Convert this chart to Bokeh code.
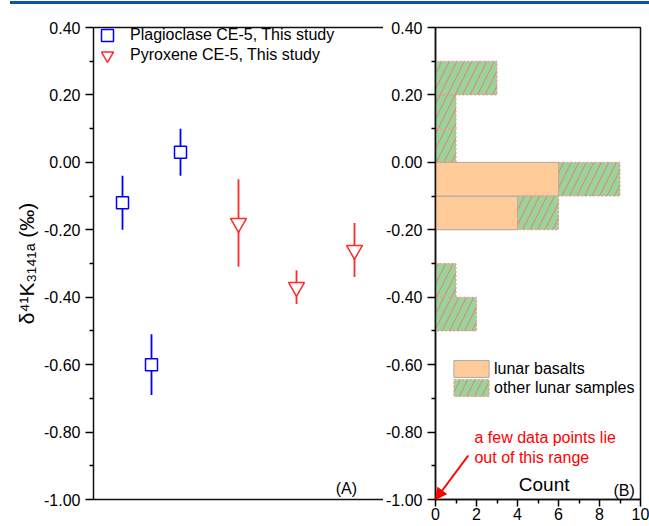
from bokeh.plotting import figure
from bokeh.layouts import row, column
from bokeh.models import (FixedTicker, PrintfTickFormatter, LinearAxis, Legend,
                          LegendItem, Label, Arrow, NormalHead, ColumnDataSource, Div)
from bokeh.embed import file_html
from bokeh.resources import INLINE

# ---------------- data ----------------
# Panel A: K isotope data of CE-5 minerals
plag_x = [1, 2, 3]
plag_y = [-0.12, -0.60, 0.03]
plag_err = [0.08, 0.09, 0.07]

pyx_x = [5, 7, 9]
pyx_y = [-0.18, -0.37, -0.26]
pyx_err = [0.13, 0.05, 0.08]

# Panel B: histogram of lunar samples (bins of 0.1)
bin_lower = [-0.5, -0.4, -0.3, -0.2, -0.1, 0.0, 0.1, 0.2]
bin_width = 0.1
basalt_counts = [0, 0, 0, 4, 6, 0, 0, 0]
other_counts = [2, 1, 0, 2, 3, 1, 1, 3]

y_ticks = [-1.0, -0.8, -0.6, -0.4, -0.2, 0.0, 0.2, 0.4]
y_minor = [-0.9, -0.7, -0.5, -0.3, -0.1, 0.1, 0.3]
count_ticks = [0, 2, 4, 6, 8, 10]
count_minor = [1, 3, 5, 7, 9]

FONT = "Liberation Sans"
BLUE = "#0000ff"
RED = "#ff2a2a"
Y0, Y1 = -1.0, 0.4
FRAME_H = 472
BAR_H = 4


def py2data(py):
    # pixel row (frame top is 27 px from window top) to data value
    return Y1 - (py - 27) * (Y1 - Y0) / FRAME_H


def style_yaxis(ax):
    ax.ticker = FixedTicker(ticks=y_ticks, minor_ticks=y_minor)
    ax.formatter = PrintfTickFormatter(format="%.2f")
    ax.major_tick_out = 8
    ax.major_tick_in = 0
    ax.minor_tick_out = 4
    ax.minor_tick_in = 0
    ax.major_label_standoff = 5
    ax.major_label_text_font = FONT
    ax.major_label_text_font_size = "16px"
    ax.major_label_text_color = "black"
    ax.axis_line_width = 1.5
    ax.major_tick_line_width = 1.5
    ax.minor_tick_line_width = 1.5
    ax.axis_line_color = "#111111"


def bare_axis():
    return LinearAxis(ticker=FixedTicker(ticks=[]), major_tick_out=0, major_tick_in=0,
                      minor_tick_out=0, minor_tick_in=0, major_label_text_font_size="0px",
                      major_label_standoff=0,
                      axis_line_width=1.5, axis_line_color="#111111")


def one_legend(label, rend, loc, gw, gh, standoff):
    return Legend(items=[LegendItem(label=label, renderers=[rend])],
                  location=loc, margin=0, padding=0, spacing=0,
                  glyph_width=gw, glyph_height=gh, label_height=16, label_standoff=standoff,
                  label_text_font=FONT, label_text_font_size="16px", label_text_color="black",
                  border_line_alpha=0, background_fill_alpha=0)


TOP = 27 - BAR_H

# ---------------- panel A ----------------
pA = figure(frame_width=290, frame_height=FRAME_H,
            x_range=(0, 10), y_range=(Y0, Y1),
            output_backend="svg", toolbar_location=None,
            x_axis_location=None, y_axis_location=None,
            min_border_left=93, min_border_right=0, min_border_top=TOP, min_border_bottom=20)
pA.outline_line_color = None
pA.grid.visible = False
yA = LinearAxis(axis_label="δ⁴¹K₃₁₄₁ₐ (‰)")
style_yaxis(yA)
yA.axis_label_text_font = FONT
yA.axis_label_text_font_size = "21px"
yA.axis_label_text_font_style = "normal"
yA.axis_label_text_color = "black"
yA.axis_label_standoff = 3
pA.add_layout(yA, "left")
pA.add_layout(bare_axis(), "below")
pA.add_layout(bare_axis(), "above")

srcP = ColumnDataSource(dict(x=plag_x, y=plag_y,
                             lo=[y - e for y, e in zip(plag_y, plag_err)],
                             hi=[y + e for y, e in zip(plag_y, plag_err)]))
srcX = ColumnDataSource(dict(x=pyx_x, y=pyx_y,
                             lo=[y - e for y, e in zip(pyx_y, pyx_err)],
                             hi=[y + e for y, e in zip(pyx_y, pyx_err)]))
pA.segment(x0="x", y0="lo", x1="x", y1="hi", source=srcP, line_color=BLUE, line_width=1.8)
pA.segment(x0="x", y0="lo", x1="x", y1="hi", source=srcX, line_color=RED, line_width=1.8)
r_sq = pA.scatter("x", "y", source=srcP, marker="square", size=12, line_color=BLUE,
                  fill_color="white", line_width=1.5)
r_tri = pA.scatter("x", "y", source=srcX, marker="inverted_triangle", size=16, line_color=RED,
                   fill_color="white", line_width=1.5)

# legend rows centred 8 px and 28 px below the frame top
pA.add_layout(one_legend("Plagioclase CE-5, This study", r_sq, (-1, FRAME_H - 8 - 15), 30, 30, 8))
pA.add_layout(one_legend("Pyroxene CE-5, This study", r_tri, (-1, FRAME_H - 28 - 15), 30, 30, 8))

pA.add_layout(Label(x=8.72, y=py2data(488), text="(A)", text_align="center", text_baseline="middle",
                    text_font=FONT, text_font_size="16px", text_color="black"))

# ---------------- panel B ----------------
pB = figure(frame_width=205, frame_height=FRAME_H,
            x_range=(0, 10), y_range=(Y0, Y1),
            output_backend="svg", toolbar_location=None,
            x_axis_location=None, y_axis_location=None,
            min_border_left=51, min_border_right=10, min_border_top=TOP, min_border_bottom=20)
pB.grid.visible = False
pB.outline_line_color = "#111111"
pB.outline_line_width = 1.5
yB = LinearAxis()
style_yaxis(yB)
pB.add_layout(yB, "left")
xB = LinearAxis(ticker=FixedTicker(ticks=count_ticks, minor_ticks=count_minor))
xB.major_tick_out = 7
xB.major_tick_in = 0
xB.minor_tick_out = 4
xB.minor_tick_in = 0
xB.major_label_standoff = 1
xB.major_label_text_font = FONT
xB.major_label_text_font_size = "16px"
xB.major_label_text_color = "black"
xB.axis_line_width = 1.5
xB.major_tick_line_width = 1.5
xB.minor_tick_line_width = 1.5
xB.axis_line_color = "#111111"
pB.add_layout(xB, "below")

bas = dict(bottom=[], top=[], left=[], right=[])
oth = dict(bottom=[], top=[], left=[], right=[])
for lo, nb, no in zip(bin_lower, basalt_counts, other_counts):
    if nb > 0:
        bas["bottom"].append(lo); bas["top"].append(lo + bin_width)
        bas["left"].append(0); bas["right"].append(nb)
    if no > 0:
        oth["bottom"].append(lo); oth["top"].append(lo + bin_width)
        oth["left"].append(nb); oth["right"].append(nb + no)

r_bas = pB.quad(source=ColumnDataSource(bas), bottom="bottom", top="top", left="left", right="right",
                fill_color="#ffcc99", line_color="#a8a8a8", line_width=1)
r_oth = pB.quad(source=ColumnDataSource(oth), bottom="bottom", top="top", left="left", right="right",
                fill_color="#9ad49c", line_color="#ff8a8a", line_width=1, line_dash="2 2",
                hatch_pattern="/", hatch_color="#ff5a5a", hatch_alpha=0.7, hatch_scale=15,
                hatch_weight=1)

pB.add_layout(one_legend("lunar basalts", r_bas, (14, 120), 44, 21, 1))
pB.add_layout(one_legend("other lunar samples", r_oth, (14, 101), 44, 21, 1))

for txt, yy in [("a few data points lie", py2data(437)), ("out of this range", py2data(457))]:
    pB.add_layout(Label(x=1.9, y=yy, text=txt, text_align="left", text_baseline="middle",
                        text_font=FONT, text_font_size="16px", text_color="#ff0000"))

pB.add_layout(Arrow(x_start=1.6, y_start=py2data(455), x_end=0, y_end=Y0,
                    line_color="#ff0000", line_width=2,
                    end=NormalHead(size=11, fill_color="#ff0000", line_color="#ff0000")))

pB.add_layout(Label(x=5.3, y=py2data(484), text="Count", text_align="center", text_baseline="middle",
                    text_font=FONT, text_font_size="19px", text_font_style="normal",
                    text_color="black"))
pB.add_layout(Label(x=9.2, y=py2data(490), text="(B)", text_align="center", text_baseline="middle",
                    text_font=FONT, text_font_size="16px", text_font_style="normal",
                    text_color="black"))

# thin blue header rule of the journal page
bar = Div(text='<div style="display:block;width:639px;height:3px;background-color:#0a56a6;"></div>',
          width=639, height=3, margin=(1, 0, 0, 10),
          styles={"background-color": "#0a56a6", "overflow": "hidden"})

layout = column(bar, row(pA, pB, spacing=0), spacing=0)

open("out.html", "w").write(file_html(layout, INLINE))
